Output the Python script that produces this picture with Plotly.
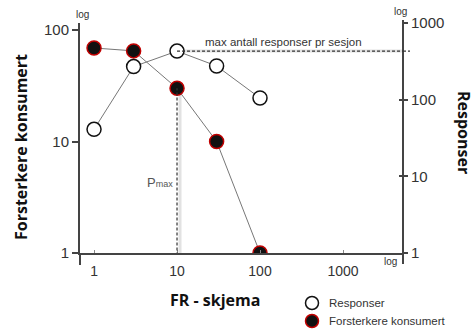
import plotly.graph_objects as go

# ---- data ----
fr_schedule = [1, 3, 10, 30, 100]
responser = [41, 270, 430, 275, 105]          # right axis (log)
forsterkere = [69, 65, 30, 10, 1]             # left axis (log)
left_ticks = [1, 10, 100]
right_ticks = [1, 10, 100, 1000]
x_ticks = [1, 10, 100, 1000]
pmax_fr = 10
pmax_reinf = 30
max_resp = 430
legend_names = ["Responser", "Forsterkere konsumert"]

W, H = 474, 329
L, R, T, B = 80, 403, 23, 253   # plot area in pixels

def px(xp):
    return (xp - L) / (R - L)

def py(yp):
    return (B - yp) / (B - T)

line_col = "#777777"
axis_col = "#444444"
txt_col = "#333333"
shadow_col = "#e2e2e2"
tick_font = dict(family="Liberation Sans, Arial, sans-serif", size=15, color=txt_col)
open_marker = dict(color="white", line=dict(color="#111111", width=1.5))
filled_marker = dict(color="#111111", line=dict(color="#c00000", width=1.5))

fig = go.Figure()

fig.add_trace(go.Scatter(
    x=fr_schedule, y=responser, yaxis="y2", mode="lines+markers",
    line=dict(color=line_col, width=1),
    marker=dict(size=14, **open_marker),
    showlegend=False, name=legend_names[0]))

fig.add_trace(go.Scatter(
    x=fr_schedule, y=forsterkere, mode="lines+markers",
    line=dict(color=line_col, width=1),
    marker=dict(size=14, **filled_marker),
    showlegend=False, name=legend_names[1]))

# invisible trace to activate yaxis3 (crossing ticks on right axis)
fig.add_trace(go.Scatter(x=[None], y=[None], yaxis="y3", showlegend=False, hoverinfo="skip"))

shapes = [
    # soft shadows of the dashed guides
    dict(type="line", xref="x", yref="y", xsizemode="pixel", xanchor=pmax_fr, x0=3, x1=3,
         y0=0.95, y1=pmax_reinf, line=dict(color=shadow_col, width=3), layer="below"),
    dict(type="line", xref="x", yref="y2", ysizemode="pixel", yanchor=max_resp, y0=-3, y1=-3,
         x0=pmax_fr, x1=6000, line=dict(color=shadow_col, width=3), layer="below"),
    # left axis extension below the x axis
    dict(type="line", xref="paper", yref="paper", x0=0, x1=0, y0=py(253), y1=py(265),
         line=dict(color=axis_col, width=2)),
    # right axis line
    dict(type="line", xref="paper", yref="paper", x0=1, x1=1, y0=py(20), y1=py(264),
         line=dict(color=axis_col, width=2)),
    # dashed max response line (+ small overhang past the right axis)
    dict(type="line", xref="x", yref="y2", x0=pmax_fr, x1=6000, y0=max_resp, y1=max_resp,
         line=dict(color="#333333", width=1.2, dash="3px,2px")),
    dict(type="line", xref="paper", yref="y2", x0=1, x1=px(410), y0=max_resp, y1=max_resp,
         line=dict(color="#333333", width=1.2, dash="3px,2px")),
    # dashed Pmax vertical
    dict(type="line", xref="x", yref="y", x0=pmax_fr, x1=pmax_fr, y0=0.95, y1=pmax_reinf,
         line=dict(color="#333333", width=1.2, dash="3px,2px")),
]

# manual legend (markers)
leg_x, leg_y0, leg_dy = 312, 303, 18
for i, mk in enumerate([open_marker, filled_marker]):
    cy = leg_y0 + i * leg_dy
    shapes.append(dict(type="circle", xref="paper", yref="paper",
                       xsizemode="pixel", ysizemode="pixel",
                       xanchor=px(leg_x), yanchor=py(cy),
                       x0=-6.5, x1=6.5, y0=-6.5, y1=6.5,
                       fillcolor=mk["color"], line=mk["line"]))

ann_common = dict(showarrow=False, xref="paper", yref="paper")
small_font = dict(family="Liberation Sans, Arial", size=10, color=txt_col)
title_font = dict(family="Open Sans, sans-serif", size=16, color="#111111")
annotations = [
    dict(text="max antall responser pr sesjon", x=px(203), y=py(42), xanchor="left",
         yanchor="middle", font=dict(family="Liberation Sans, Arial", size=11.5, color=txt_col),
         **ann_common),
    dict(text="P<span style='font-size:9px'>max</span>", x=px(175), y=py(182), xanchor="right",
         yanchor="middle", font=dict(family="Liberation Sans, Arial", size=13, color="#555555"),
         **ann_common),
    dict(text="log", x=px(82), y=py(14), xanchor="center", yanchor="middle", font=small_font, **ann_common),
    dict(text="log", x=px(400), y=py(11), xanchor="center", yanchor="middle", font=small_font, **ann_common),
    dict(text="log", x=px(390), y=py(261), xanchor="center", yanchor="middle", font=small_font, **ann_common),
    dict(text="<b>Forsterkere konsumert</b>", x=px(21), y=py(147), textangle=-90,
         xanchor="center", yanchor="middle", font=title_font, **ann_common),
    dict(text="<b>Responser</b>", x=px(464), y=py(132), textangle=90,
         xanchor="center", yanchor="middle", font=title_font, **ann_common),
    dict(text="<b>FR - skjema</b>", x=px(215), y=py(300),
         xanchor="center", yanchor="middle", font=title_font, **ann_common),
]
for i, name in enumerate(legend_names):
    annotations.append(dict(text=name, x=px(327), y=py(leg_y0 + i * leg_dy), xanchor="left",
                            yanchor="middle",
                            font=dict(family="Liberation Sans, Arial", size=11.5, color=txt_col),
                            **ann_common))

fig.update_layout(
    width=W, height=H,
    margin=dict(l=L, r=W - R, t=T, b=H - B, pad=0, autoexpand=False),
    paper_bgcolor="white", plot_bgcolor="white",
    showlegend=False,
    xaxis=dict(type="log", range=[-0.169, 3.723], tickvals=x_ticks,
               ticktext=[str(v) for v in x_ticks],
               showgrid=False, zeroline=False, showline=True, linecolor=axis_col, linewidth=2,
               ticks="inside", ticklen=3, tickcolor="#888888", tickfont=dict(tick_font, size=14),
               ticklabelstandoff=4),
    yaxis=dict(type="log", range=[0, 2.063], tickvals=left_ticks,
               ticktext=[str(v) for v in left_ticks],
               showgrid=False, zeroline=False, showline=True, linecolor=axis_col, linewidth=2,
               ticks="outside", ticklen=6, tickcolor=axis_col, tickwidth=1.5, tickfont=tick_font),
    yaxis2=dict(type="log", range=[0, 3], tickvals=right_ticks,
                ticktext=[str(v) for v in right_ticks],
                overlaying="y", side="right", anchor="x",
                showgrid=False, zeroline=False, showline=False,
                ticks="outside", ticklen=4, tickcolor=axis_col, tickwidth=1.5, tickfont=tick_font),
    yaxis3=dict(type="log", range=[0, 3], tickvals=right_ticks[1:], showticklabels=False,
                overlaying="y", side="right", anchor="x",
                showgrid=False, zeroline=False, showline=False,
                ticks="inside", ticklen=4, tickcolor=axis_col, tickwidth=1.5),
    shapes=shapes,
    annotations=annotations,
)

fig.write_html("out.html", config={"displayModeBar": False},
               post_script="document.body.style.margin='0px';")
